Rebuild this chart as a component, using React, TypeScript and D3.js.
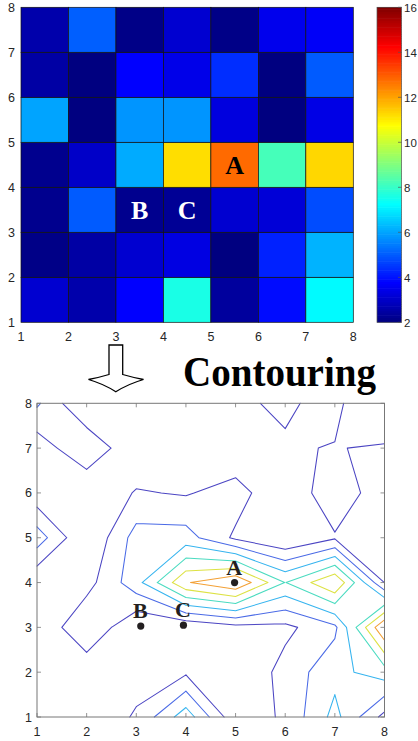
import { useEffect, useRef } from "react"
import * as d3 from "d3"

const W = 418
const H = 741

const xTicks = [1, 2, 3, 4, 5, 6, 7, 8]
const yTicks = [1, 2, 3, 4, 5, 6, 7, 8]
const colorTicks = [2, 4, 6, 8, 10, 12, 14, 16]

// grid values Z(x, y), x = 1..8, one array per y row
const zY1 = [3.1, 2.6, 3.75, 7.6, 2.4, 3.9, 7.2, 3.1]
const zY2 = [2.1, 2.5, 3.1, 3.35, 2.0, 4.2, 6.2, 7.5]
const zY3 = [2.2, 5.0, 2.2, 2.3, 3.1, 3.2, 4.8, 12.9]
const zY4 = [2.2, 3.0, 6.1, 11.2, 12.8, 8.2, 11.3, 3.58]
const zY5 = [6.0, 2.0, 5.8, 5.8, 3.3, 2.0, 3.4, 2.5]
const zY6 = [2.5, 2.0, 3.75, 3.45, 4.37, 2.0, 5.0, 2.3]
const zY7 = [2.6, 5.05, 2.1, 3.1, 2.1, 3.5, 3.65, 3.45]
const zY8 = [5.4, 1.9, 2.5, 3.0, 3.47, 3.73, 3.3, 5.0]

const contourLevels = [3.6, 5.15, 6.7, 8.25, 9.8, 11.35]
const levelColors = ["#4b45c3", "#4a6ae6", "#36b4ef", "#4adbc0", "#dde244", "#f3a035"]

const heatLabels = ["A", "B", "C"]
const heatLabelX = [5.5, 3.5, 4.5]
const heatLabelY = [4.5, 3.5, 3.5]
const heatLabelFill = ["#000", "#fff", "#fff"]

const pointLabels = ["A", "B", "C"]
const pointX = [4.98, 3.09, 3.95]
const pointY = [4.0, 3.03, 3.05]

const jet = (t: number) => {
    const c = (v: number) => Math.max(0, Math.min(1, v))
    const r = c(Math.min(4 * t - 1.5, -4 * t + 4.5))
    const g = c(Math.min(4 * t - 0.5, -4 * t + 3.5))
    const b = c(Math.min(4 * t + 0.5, -4 * t + 2.5))
    return d3.rgb(r * 255, g * 255, b * 255).formatHex()
}

// marching squares, linear interpolation, saddles resolved by the cell mean
function isoSegments(rows: number[][], level: number) {
    const segs: [number, number][][] = []
    const lerp = (x0: number, y0: number, v0: number, x1: number, y1: number, v1: number): [number, number] => {
        const t = (level - v0) / (v1 - v0)
        return [x0 + t * (x1 - x0), y0 + t * (y1 - y0)]
    }
    for (let j = 0; j < rows.length - 1; j++) {
        for (let i = 0; i < rows[0].length - 1; i++) {
            const x = i + 1, y = j + 1
            const a = rows[j][i], b = rows[j][i + 1], c = rows[j + 1][i + 1], d = rows[j + 1][i]
            const A = a >= level, B = b >= level, C = c >= level, D = d >= level
            const bottom = A !== B ? lerp(x, y, a, x + 1, y, b) : null
            const right = B !== C ? lerp(x + 1, y, b, x + 1, y + 1, c) : null
            const top = D !== C ? lerp(x, y + 1, d, x + 1, y + 1, c) : null
            const left = A !== D ? lerp(x, y, a, x, y + 1, d) : null
            const pts = [bottom, right, top, left].filter(Boolean) as [number, number][]
            if (pts.length === 2) segs.push(pts)
            else if (pts.length === 4) {
                const centerHigh = (a + b + c + d) / 4 >= level
                if (centerHigh === A) {
                    segs.push([bottom!, right!])
                    segs.push([left!, top!])
                } else {
                    segs.push([bottom!, left!])
                    segs.push([right!, top!])
                }
            }
        }
    }
    return segs
}

export default function App() {
    const svgRef = useRef<SVGSVGElement>(null)

    useEffect(() => {
        if (!svgRef.current) return
        const svg = d3.select(svgRef.current)
        svg.selectAll("*").remove()

        const rows = [zY1, zY2, zY3, zY4, zY5, zY6, zY7, zY8]
        const sans = "'Liberation Sans', Arial, sans-serif"
        const serif = "'Liberation Serif', 'Times New Roman', serif"
        const tickColor = "#262626"

        svg.append("rect").attr("width", W).attr("height", H).attr("fill", "#fff")

        // ---------- top: pcolor heatmap ----------
        const hx = d3.scaleLinear().domain([1, 8]).range([21, 353.3])
        const hy = d3.scaleLinear().domain([1, 8]).range([322.3, 7.3])
        const cnorm = d3.scaleLinear().domain([2, 16]).range([0, 1]).clamp(true)

        const heat = svg.append("g")
        for (let j = 0; j < 7; j++) {
            for (let i = 0; i < 7; i++) {
                heat.append("rect")
                    .attr("x", hx(i + 1))
                    .attr("y", hy(j + 2))
                    .attr("width", hx(i + 2) - hx(i + 1))
                    .attr("height", hy(j + 1) - hy(j + 2))
                    .attr("fill", jet(cnorm(rows[j][i])))
                    .attr("stroke", "#111")
                    .attr("stroke-width", 0.7)
            }
        }

        heatLabels.forEach((t, k) => {
            heat.append("text")
                .attr("x", hx(heatLabelX[k]))
                .attr("y", hy(heatLabelY[k]) + 9)
                .attr("text-anchor", "middle")
                .attr("font-family", serif)
                .attr("font-weight", "bold")
                .attr("font-size", 26)
                .attr("fill", heatLabelFill[k])
                .text(t)
        })

        // axis labels (top plot)
        xTicks.forEach(v => {
            svg.append("text").attr("x", hx(v)).attr("y", 340.5)
                .attr("text-anchor", "middle").attr("font-family", sans).attr("font-size", 12.5)
                .attr("fill", tickColor).text(v)
        })
        yTicks.forEach(v => {
            svg.append("text").attr("x", 15).attr("y", hy(v) + 4.5)
                .attr("text-anchor", "end").attr("font-family", sans).attr("font-size", 12.5)
                .attr("fill", tickColor).text(v)
        })

        // ---------- colorbar ----------
        const cbX = 377, cbW = 24.5
        const cy = d3.scaleLinear().domain([2, 16]).range([322.3, 7.3])
        const steps = d3.range(0, 140)
        const stepV = (16 - 2) / steps.length
        const cbar = svg.append("g")
        steps.forEach(s => {
            const v0 = 2 + s * stepV
            cbar.append("rect")
                .attr("x", cbX).attr("width", cbW)
                .attr("y", cy(v0 + stepV) - 0.3)
                .attr("height", cy(v0) - cy(v0 + stepV) + 0.6)
                .attr("fill", jet(cnorm(v0 + stepV / 2)))
        })
        cbar.append("rect").attr("x", cbX).attr("y", cy(16)).attr("width", cbW)
            .attr("height", cy(2) - cy(16)).attr("fill", "none").attr("stroke", "#555").attr("stroke-width", 0.7)
        colorTicks.forEach(v => {
            cbar.append("line").attr("x1", cbX + cbW).attr("x2", cbX + cbW - 3.5)
                .attr("y1", cy(v)).attr("y2", cy(v)).attr("stroke", "#555").attr("stroke-width", 0.7)
            cbar.append("text").attr("x", cbX + cbW + 2.5).attr("y", cy(v) + 4.2)
                .attr("font-family", sans).attr("font-size", 11.5).attr("fill", tickColor).text(v)
        })

        // ---------- arrow + title ----------
        svg.append("path")
            .attr("d", "M109,345 L109,374.5 Q99,377.5 88.5,379.5 Q104,384 115.8,391.8 Q128,384 143.5,379.5 Q133,377.5 122.7,374.5 L122.7,345 Z")
            .attr("fill", "#fff").attr("stroke", "#000").attr("stroke-width", 1.3)
        svg.append("text")
            .attr("x", 183).attr("y", 385.5)
            .attr("font-family", serif).attr("font-weight", "bold").attr("font-size", 42)
            .attr("textLength", 193).attr("lengthAdjust", "spacingAndGlyphs")
            .attr("fill", "#000").text("Contouring")

        // ---------- bottom: contour plot ----------
        const x = d3.scaleLinear().domain([1, 8]).range([37, 384.5])
        const y = d3.scaleLinear().domain([1, 8]).range([717, 403.3])
        const line = d3.line<[number, number]>().x(d => x(d[0])).y(d => y(d[1]))

        const cont = svg.append("g")
        contourLevels.forEach((lv, k) => {
            const segs = isoSegments(rows, lv)
            cont.append("path")
                .attr("d", segs.map(s => line(s)).join(""))
                .attr("fill", "none")
                .attr("stroke", levelColors[k])
                .attr("stroke-width", 1.05)
                .attr("stroke-linecap", "round")
                .attr("stroke-linejoin", "round")
        })

        // axes box and inward ticks
        const axisColor = "#777"
        cont.append("rect").attr("x", x(1)).attr("y", y(8))
            .attr("width", x(8) - x(1)).attr("height", y(1) - y(8))
            .attr("fill", "none").attr("stroke", axisColor).attr("stroke-width", 1)
        xTicks.forEach(v => {
            cont.append("line").attr("x1", x(v)).attr("x2", x(v)).attr("y1", y(1)).attr("y2", y(1) - 4)
                .attr("stroke", axisColor).attr("stroke-width", 0.8)
            cont.append("line").attr("x1", x(v)).attr("x2", x(v)).attr("y1", y(8)).attr("y2", y(8) + 4)
                .attr("stroke", axisColor).attr("stroke-width", 0.8)
            cont.append("text").attr("x", x(v)).attr("y", 736)
                .attr("text-anchor", "middle").attr("font-family", sans).attr("font-size", 12.5)
                .attr("fill", tickColor).text(v)
        })
        yTicks.forEach(v => {
            cont.append("line").attr("x1", x(1)).attr("x2", x(1) + 4).attr("y1", y(v)).attr("y2", y(v))
                .attr("stroke", axisColor).attr("stroke-width", 0.8)
            cont.append("line").attr("x1", x(8)).attr("x2", x(8) - 4).attr("y1", y(v)).attr("y2", y(v))
                .attr("stroke", axisColor).attr("stroke-width", 0.8)
            cont.append("text").attr("x", 32).attr("y", y(v) + 4.5)
                .attr("text-anchor", "end").attr("font-family", sans).attr("font-size", 12.5)
                .attr("fill", tickColor).text(v)
        })

        // marked points
        pointLabels.forEach((t, k) => {
            cont.append("circle").attr("cx", x(pointX[k])).attr("cy", y(pointY[k])).attr("r", 3.6).attr("fill", "#231f20")
            cont.append("text")
                .attr("x", x(pointX[k]) - 0.5)
                .attr("y", y(pointY[k]) - 8)
                .attr("text-anchor", "middle")
                .attr("font-family", serif)
                .attr("font-weight", "bold")
                .attr("font-size", 22)
                .attr("fill", "#231f20")
                .text(t)
        })
    }, [])

    return (
        <div style={{ position: "absolute", left: 0, top: 0, width: W, height: H }}>
            <svg ref={svgRef} width={W} height={H} viewBox={`0 0 ${W} ${H}`} style={{ display: "block" }} />
        </div>
    )
}
